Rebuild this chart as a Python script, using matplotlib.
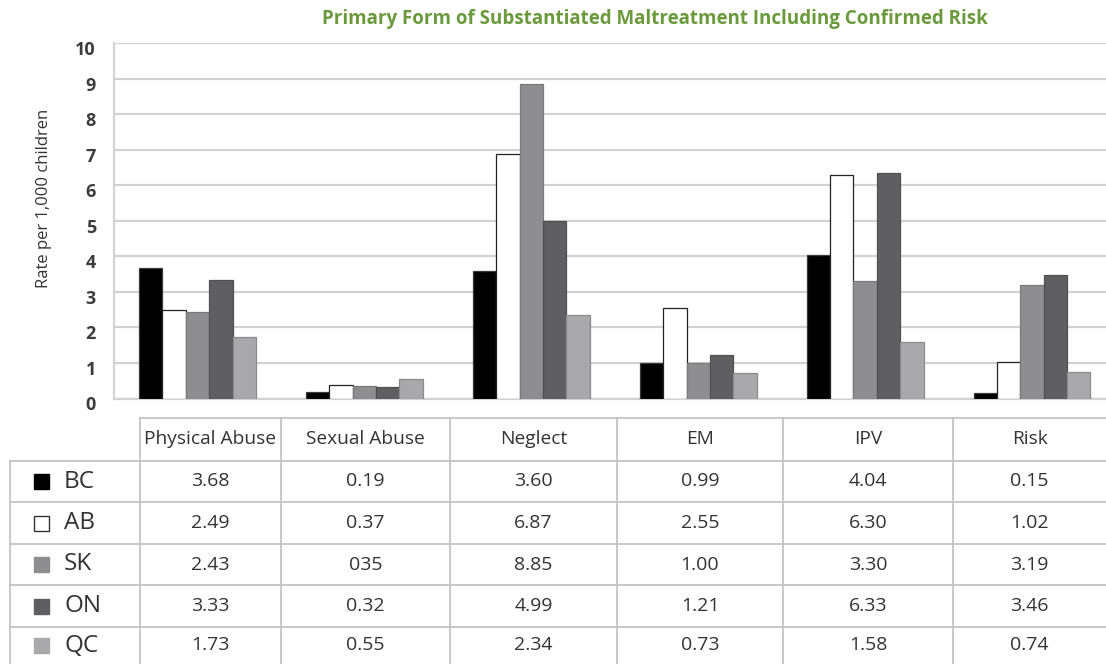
import matplotlib
matplotlib.use("Agg")
import matplotlib.pyplot as plt
import matplotlib.transforms as mtransforms
from matplotlib.patches import Rectangle
from matplotlib.lines import Line2D
import numpy as np

plt.rcParams['font.family'] = ['Open Sans', 'DejaVu Sans']

title = "Primary Form of Substantiated Maltreatment Including Confirmed Risk"
ylabel = "Rate per 1,000 children"
categories = ["Physical Abuse", "Sexual Abuse", "Neglect", "EM", "IPV", "Risk"]
series_names = ["BC", "AB", "SK", "ON", "QC"]
bc = [3.68, 0.19, 3.60, 0.99, 4.04, 0.15]
ab = [2.49, 0.37, 6.87, 2.55, 6.30, 1.02]
sk = [2.43, 0.35, 8.85, 1.00, 3.30, 3.19]
on = [3.33, 0.32, 4.99, 1.21, 6.33, 3.46]
qc = [1.73, 0.55, 2.34, 0.73, 1.58, 0.74]
# table text as printed in the source (note the "035" entry)
table_text = [
    ["3.68", "0.19", "3.60", "0.99", "4.04", "0.15"],
    ["2.49", "0.37", "6.87", "2.55", "6.30", "1.02"],
    ["2.43", "035", "8.85", "1.00", "3.30", "3.19"],
    ["3.33", "0.32", "4.99", "1.21", "6.33", "3.46"],
    ["1.73", "0.55", "2.34", "0.73", "1.58", "0.74"],
]
yticks = [0, 1, 2, 3, 4, 5, 6, 7, 8, 9, 10]

series = [bc, ab, sk, on, qc]
colors = ["#000000", "#ffffff", "#8e8e90", "#5f5f61", "#a9a9ab"]
edges = ["#3a3a3a", "#222222", "#7a7a7c", "#505052", "#8a8a8c"]

W, H = 1106, 664
fig = plt.figure(figsize=(W / 100, H / 100), dpi=100)

def fx(px):
    return px / W

def fy(py):
    return 1 - py / H

ax_left, ax_right, ax_top, ax_bot = 114, 1115.5, 43, 398.5
ax = fig.add_axes([fx(ax_left), fy(ax_bot), fx(ax_right - ax_left), fy(ax_top) - fy(ax_bot)])

x = np.arange(len(categories))
bw = 0.14
for i, (vals, c, e) in enumerate(zip(series, colors, edges)):
    ax.bar(x + (i - 2) * bw, vals, width=bw, color=c, edgecolor=e, linewidth=0.9, zorder=3)

ax.set_xlim(-0.5, len(categories) - 0.5)
ax.set_ylim(0, 10)
ax.set_yticks(yticks)
ax.set_yticklabels([str(t) for t in yticks], fontsize=13, fontweight='bold', color='#3c3c3c')
ax.tick_params(axis='y', length=0, pad=13)
ax.set_xticks([])
ax.yaxis.grid(True, color='#d2d2d2', linewidth=1.6, zorder=0)
ax.set_axisbelow(True)
for s in ['top', 'right']:
    ax.spines[s].set_visible(False)
ax.spines['left'].set_color('#d2d2d2')
ax.spines['left'].set_linewidth(1.6)
ax.spines['bottom'].set_color('#d2d2d2')
ax.spines['bottom'].set_linewidth(1.6)
offset = mtransforms.ScaledTranslation(0, -5 / 100, fig.dpi_scale_trans)
for lab in ax.get_yticklabels():
    lab.set_transform(lab.get_transform() + offset)

fig.text(fx(44), fy(198), ylabel, rotation=90, ha='center', va='center', fontsize=12, color='#333333')
fig.text(fx(655), fy(19), title, ha='center', va='center', fontsize=13.5, fontweight='bold', color='#6a9a3b')

# table
line_c = '#c4c4c4'
lw = 1.3
col_edges = [140, 281, 450, 617, 783, 953, 1106]
row_edges = [418, 461, 502, 544, 585, 627, 664]
lab_left = 10

def hline(y, x0, x1):
    fig.add_artist(Line2D([fx(x0), fx(x1)], [fy(y), fy(y)], color=line_c, lw=lw))

def vline(xp, y0, y1):
    fig.add_artist(Line2D([fx(xp), fx(xp)], [fy(y0), fy(y1)], color=line_c, lw=lw))

hline(row_edges[0], col_edges[0], col_edges[-1])
for r in row_edges[1:-1]:
    hline(r, lab_left, col_edges[-1])
vline(lab_left, row_edges[1], H)
for ci, cx in enumerate(col_edges[:-1]):
    vline(cx, row_edges[0], H)

text_c = '#333333'
for j, cat in enumerate(categories):
    cx = (col_edges[j] + col_edges[j + 1]) / 2
    cy = (row_edges[0] + row_edges[1]) / 2
    fig.text(fx(cx), fy(cy), cat, ha='center', va='center', fontsize=13.8, color=text_c)

for i, name in enumerate(series_names):
    cy = (row_edges[i + 1] + row_edges[i + 2]) / 2
    sq = 15
    fig.add_artist(Rectangle((fx(34), fy(cy + sq / 2)), fx(sq), fy(0) - fy(sq), facecolor=colors[i],
                             edgecolor='#333333' if i == 1 else colors[i], lw=1.0))
    fig.text(fx(64), fy(cy), name, ha='left', va='center', fontsize=17.5, color=text_c)
    for j in range(len(categories)):
        cx = (col_edges[j] + col_edges[j + 1]) / 2
        fig.text(fx(cx), fy(cy), table_text[i][j], ha='center', va='center', fontsize=14, color=text_c)

fig.savefig("out.png", dpi=100)
